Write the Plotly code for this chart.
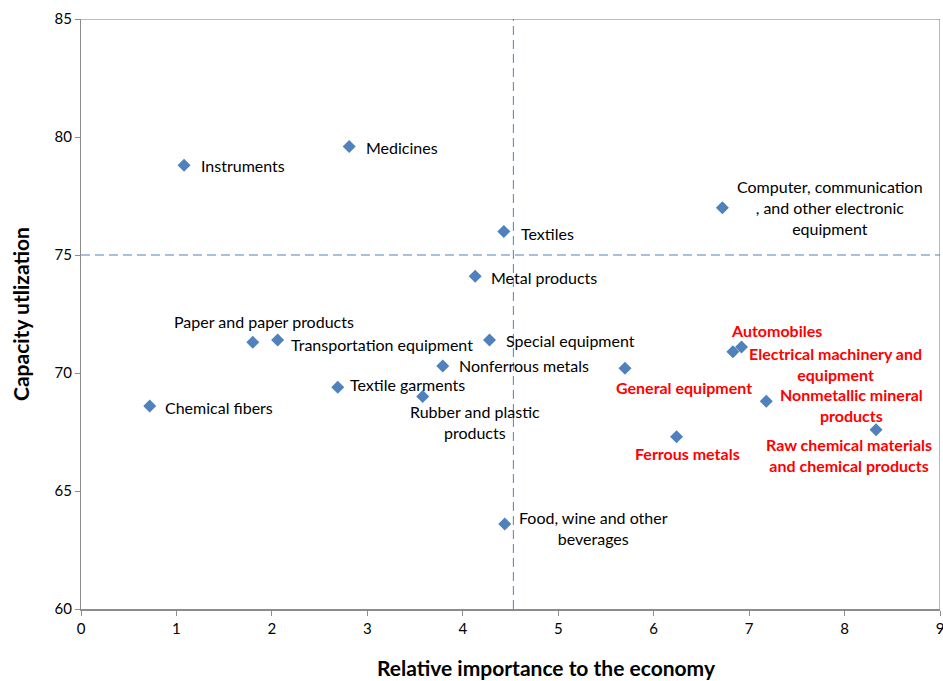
import plotly.graph_objects as go

industries = ["Instruments", "Medicines", "Textiles",
              "Computer, communication<br>, and other electronic<br>equipment",
              "Metal products", "Paper and paper products", "Transportation equipment",
              "Special equipment", "Nonferrous metals", "Textile garments",
              "Rubber and plastic<br>products", "Chemical fibers",
              "Food, wine and other<br>beverages", "Automobiles",
              "Electrical machinery and<br>equipment", "General equipment",
              "Nonmetallic mineral<br>products", "Ferrous metals",
              "Raw chemical materials<br>and chemical products"]
importance = [1.08, 2.81, 4.43, 6.72, 4.13, 1.80, 2.06, 4.28, 3.79, 2.69,
              3.58, 0.72, 4.44, 6.92, 6.83, 5.70, 7.18, 6.24, 8.33]
utilization = [78.8, 79.6, 76.0, 77.0, 74.1, 71.3, 71.4, 71.4, 70.3, 69.4,
               69.0, 68.6, 63.6, 71.1, 70.9, 70.2, 68.8, 67.3, 67.6]
highlight = [False]*13 + [True]*6
avg_importance = 4.53
avg_utilization = 75

# label placement (xanchor, xshift px, yshift px)
placement = [("left", 15, 0), ("left", 15, -1), ("left", 15, -2), ("center", 108, 0),
             ("left", 14, -1), ("center", 11, 21), ("left", 11, -5), ("left", 14, -1),
             ("left", 14, 0), ("left", 10, 3), ("center", 52, -25), ("left", 13, -1),
             ("center", 89, -4), ("center", 35, 17), ("center", 103, -12),
             ("center", 59, -19), ("center", 85, -4), ("center", 11, -17), ("center", -27, -25)]

BLUE = "#4F81BD"
FONT = "Lato"

fig = go.Figure()
fig.add_trace(go.Scatter(x=importance, y=utilization, mode="markers",
                         marker=dict(symbol="diamond", size=10, color=BLUE),
                         hoverinfo="skip", showlegend=False))

for name, xv, yv, hl, (anc, xs, ys) in zip(industries, importance, utilization, highlight, placement):
    fig.add_annotation(x=xv, y=yv, text=f"<b>{name}</b>" if hl else name,
                       showarrow=False, xanchor=anc, yanchor="middle", align="center",
                       xshift=xs, yshift=ys,
                       font=dict(family=FONT, size=16, color="#FF0000" if hl else "#000000"))

# reference lines
fig.add_shape(type="line", x0=avg_importance, x1=avg_importance, y0=60, y1=85,
              line=dict(color=BLUE, width=1, dash="9px,5px"))
fig.add_shape(type="line", x0=0, x1=9, y0=avg_utilization, y1=avg_utilization,
              line=dict(color=BLUE, width=1, dash="9px,5px"))
# top / right border
fig.add_shape(type="line", x0=0, x1=9, y0=85, y1=85, line=dict(color=BLUE, width=1))
fig.add_shape(type="line", x0=9, x1=9, y0=60, y1=85, line=dict(color=BLUE, width=1))

fig.add_annotation(xref="paper", yref="paper", x=(546-81)/859, y=(609-667)/590,
                   text="<b>Relative importance to the economy</b>", showarrow=False,
                   xanchor="center", yanchor="middle",
                   font=dict(family=FONT, size=21, color="#000000"))
fig.add_annotation(xref="paper", yref="paper", x=-(81-20)/859, y=0.5,
                   text="<b>Capacity utlization</b>", showarrow=False, textangle=-90,
                   xanchor="center", yanchor="middle",
                   font=dict(family=FONT, size=21, color="#000000"))

fig.update_xaxes(range=[0, 9], tickvals=list(range(10)), showgrid=False, zeroline=False,
                 showline=True, linecolor="#8C8C8C", linewidth=2,
                 ticks="outside", tickcolor="#8C8C8C", ticklen=5,
                 ticklabeloverflow="allow", automargin=False,
                 tickfont=dict(family=FONT, size=15, color="#000000"))
fig.update_yaxes(range=[60, 85], tickvals=[60, 65, 70, 75, 80, 85], showgrid=False, zeroline=False,
                 showline=True, linecolor="#8C8C8C", linewidth=1,
                 ticks="outside", tickcolor="#8C8C8C", ticklen=5, automargin=False,
                 tickfont=dict(family=FONT, size=15, color="#000000"))

fig.update_layout(width=943, height=681, margin=dict(l=81, r=3, t=19, b=72),
                  plot_bgcolor="white", paper_bgcolor="white")

fig.write_html("out.html")
